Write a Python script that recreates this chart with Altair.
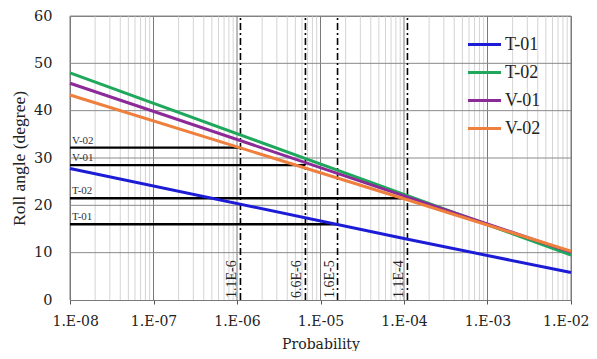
import altair as alt
import pandas as pd

# ---- data ----
probs = [1e-8, 1e-4, 1e-2]
series = ["T-01", "T-02", "V-01", "V-02"]
t01 = [27.8, 13.0, 5.8]
t02 = [48.0, 22.3, 9.5]
v01 = [45.8, 22.0, 10.1]
v02 = [43.3, 21.4, 10.3]
colors = ["#1c1cd6", "#1fa85c", "#8c2a98", "#ee7f3c"]

thr_names = ["V-02", "V-01", "T-02", "T-01"]
thr_levels = [32.2, 28.5, 21.5, 16.0]
thr_probs = [1.1e-6, 6.6e-6, 1.1e-4, 1.6e-5]

vert_probs = [1.1e-6, 6.6e-6, 1.6e-5, 1.1e-4]
vert_labels = ["1.1E-6", "6.6E-6", "1.6E-5", "1.1E-4"]

major_ticks = [1e-8, 1e-7, 1e-6, 1e-5, 1e-4, 1e-3, 1e-2]
minor_ticks = [k * 10.0 ** e for e in range(-8, -2) for k in range(2, 10)]
y_ticks = [0, 10, 20, 30, 40, 50, 60]

# ---- tables ----
lines_df = pd.DataFrame(
    [(p, v, s) for s, vals in zip(series, [t01, t02, v01, v02]) for p, v in zip(probs, vals)],
    columns=["p", "angle", "series"],
)
thr_df = pd.DataFrame({"name": thr_names, "level": thr_levels, "p": thr_probs, "p0": [1e-8] * 4})
vert_df = pd.DataFrame({"p": vert_probs, "label": vert_labels, "y0": [0] * 4, "y1": [60] * 4})
minor_df = pd.DataFrame({"p": minor_ticks})
major_df = pd.DataFrame({"p": major_ticks})
ygrid_df = pd.DataFrame({"y": y_ticks[1:]})

WIDE = "DejaVu Serif"
SERIF = "Liberation Serif"

xscale = alt.Scale(type="log", domain=[1e-8, 1e-2])
yscale = alt.Scale(domain=[0, 60])

x_axis = alt.Axis(
    values=major_ticks,
    labelExpr="'1.E-0' + format(-round(log(datum.value)/LN10), 'd')",
    title="Probability",
    grid=False,
    ticks=True,
    tickSize=4,
    tickColor="#555",
    domain=False,
    labelFlush=True,
    labelFlushOffset=18,
    labelOverlap=False,
    labelFont=WIDE,
    labelFontSize=14,
    labelPadding=10,
    titleFont=WIDE,
    titleFontSize=14,
    titleFontWeight="normal",
    titlePadding=9,
    labelColor="#222",
    titleColor="#222",
)
y_axis = alt.Axis(
    values=y_ticks,
    title="Roll angle (degree)",
    grid=False,
    ticks=False,
    domain=False,
    labelFont=WIDE,
    labelFontSize=14.5,
    labelPadding=18,
    titleFont=SERIF,
    titleFontSize=17.5,
    titleFontWeight="normal",
    titlePadding=5,
    labelColor="#222",
    titleColor="#222",
)

minor = alt.Chart(minor_df).mark_rule(color="#d4d4d4", strokeWidth=1).encode(
    x=alt.X("p:Q", scale=xscale, axis=x_axis)
)
major = alt.Chart(major_df).mark_rule(color="#7a7a7a", strokeWidth=1).encode(
    x=alt.X("p:Q", scale=xscale)
)
ygrid = alt.Chart(ygrid_df).mark_rule(color="#8a8a8a", strokeWidth=1).encode(
    y=alt.Y("y:Q", scale=yscale, axis=y_axis)
)

vlines = alt.Chart(vert_df).mark_rule(
    color="black", strokeWidth=1.6, strokeDash=[7, 3, 2, 3]
).encode(x=alt.X("p:Q", scale=xscale), y=alt.Y("y0:Q", scale=yscale), y2="y1:Q")

vtext = alt.Chart(vert_df).mark_text(
    angle=270, align="left", baseline="bottom", font=SERIF, fontSize=14,
    dx=2, dy=-1, color="#222"
).encode(x=alt.X("p:Q", scale=xscale), y=alt.Y("y0:Q", scale=yscale), text="label:N")

hlines = alt.Chart(thr_df).mark_rule(color="black", strokeWidth=2.4).encode(
    x=alt.X("p0:Q", scale=xscale), x2="p:Q", y=alt.Y("level:Q", scale=yscale)
)
htext = alt.Chart(thr_df).mark_text(
    align="left", baseline="bottom", font=SERIF, fontSize=11, dx=2, dy=-2, color="#333"
).encode(x=alt.X("p0:Q", scale=xscale), y=alt.Y("level:Q", scale=yscale), text="name:N")

curves = alt.Chart(lines_df).mark_line(strokeWidth=3).encode(
    x=alt.X("p:Q", scale=xscale),
    y=alt.Y("angle:Q", scale=yscale),
    color=alt.Color(
        "series:N",
        scale=alt.Scale(domain=series, range=colors),
        legend=alt.Legend(
            title=None,
            orient="none",
            legendX=396,
            legendY=10,
            symbolType="stroke",
            symbolSize=1090,
            symbolStrokeWidth=3,
            labelFont=SERIF,
            labelFontSize=18,
            labelColor="#222",
            rowPadding=-5,
            labelOffset=2,
        ),
    ),
)

chart = (
    alt.layer(minor, major, ygrid, vlines, vtext, hlines, htext, curves)
    .properties(
        width=501,
        height=284,
        autosize=alt.AutoSizeParams(type="none"),
        padding={"left": 62, "top": 8, "right": 18, "bottom": 51},
    )
    .configure(font=SERIF)
    .configure_view(stroke="#7a7a7a", strokeWidth=1)
)

chart.save("out.html", embed_options={"renderer": "svg", "actions": False})
